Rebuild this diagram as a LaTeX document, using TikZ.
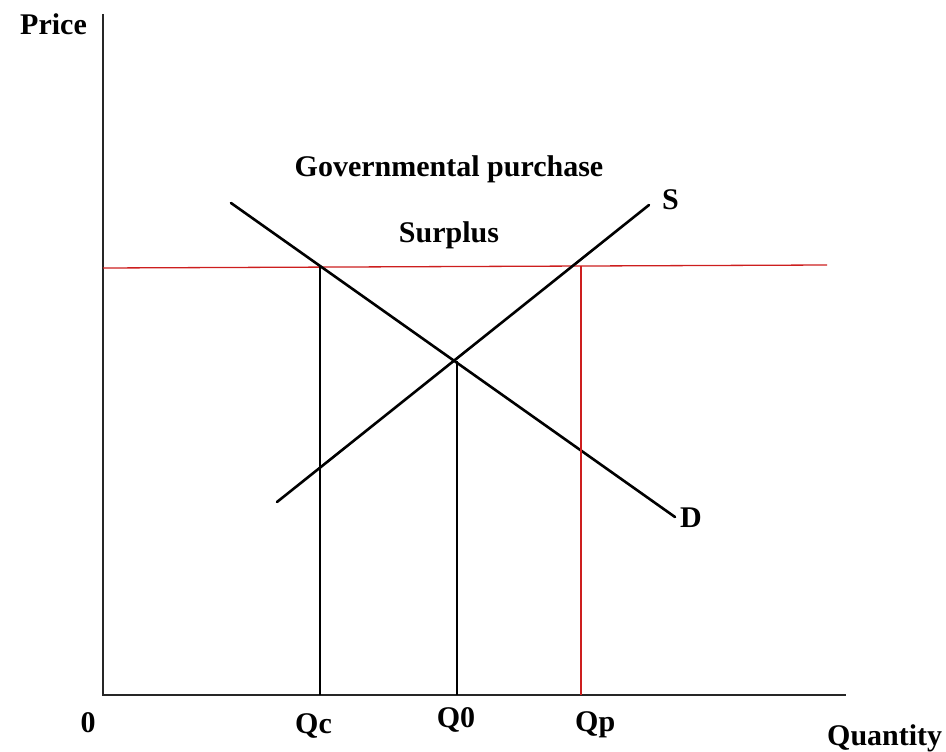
\documentclass[tikz,border=0pt]{standalone}
\usepackage{fontspec}
\setmainfont{Liberation Serif}
\definecolor{redline}{RGB}{205,30,30}
\begin{document}
\begin{tikzpicture}[x=1pt,y=-1pt,
  lbl/.style={inner sep=0pt,font=\fontsize{30}{36}\selectfont\bfseries},
  axis/.style={line width=1.6pt,black!85},
  curve/.style={line width=2.6pt,black,line cap=round},
  guide/.style={line width=1.3pt,black},
  redguide/.style={line width=1.3pt,redline}]
\useasboundingbox (0,0) rectangle (946,752);
% axes
\coordinate (o) at (103,695);
\coordinate (ytop) at (103,14);
\coordinate (xend) at (846,695);
\draw[axis] (ytop) -- (o) -- (xend);
% price floor
\coordinate (pl) at (103,268);
\coordinate (pr) at (827,265);
\draw[redguide] (pl) -- (pr);
% demand and supply
\coordinate (d1) at (231,203);
\coordinate (d2) at (675,517);
\coordinate (s1) at (277,502);
\coordinate (s2) at (649,205);
\draw[curve] (d1) -- (d2);
\draw[curve] (s1) -- (s2);
% guides
\coordinate (qct) at (320,267);
\coordinate (qcb) at (320,695);
\coordinate (q0t) at (457,361);
\coordinate (q0b) at (457,695);
\coordinate (qpt) at (581,266);
\coordinate (qpb) at (581,695);
\draw[guide] (qct) -- (qcb);
\draw[guide] (q0t) -- (q0b);
\draw[redguide] (qpt) -- (qpb);
% labels
\node[lbl,anchor=base west] (price) at (20,35) {Price};
\node[lbl,anchor=base] (zero) at (88,732) {0};
\node[lbl,anchor=base west] (qc) at (295,733) {Qc};
\node[lbl,anchor=base] (q0) at (456,727) {Q0};
\node[lbl,anchor=base west] (qp) at (575,731) {Qp};
\node[lbl,anchor=base west] (qty) at (827,745) {Quantity};
\node[lbl,anchor=base west] (s) at (662,209) {S};
\node[lbl,anchor=base west] (d) at (680,527) {D};
\node[lbl,anchor=base] (gp) at (449,176) {Governmental purchase};
\node[lbl,anchor=base] (sur) at (449,242) {Surplus};
\end{tikzpicture}
\end{document}
